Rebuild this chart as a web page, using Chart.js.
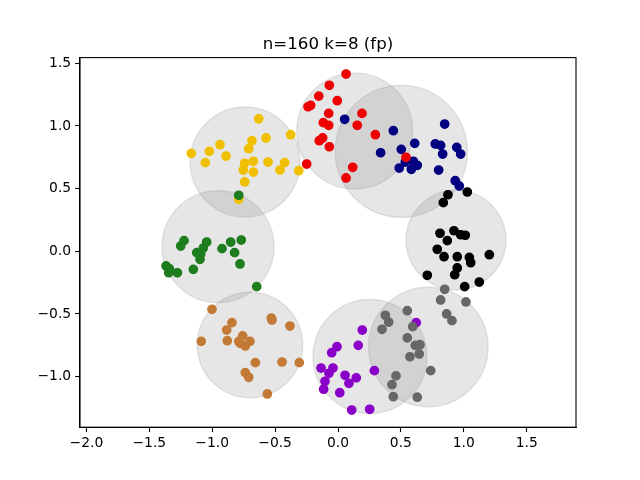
<!DOCTYPE html>
<html>
<head>
<meta charset="utf-8">
<script src="https://cdn.jsdelivr.net/npm/chart.js@4/dist/chart.umd.min.js"></script>
<style>
html,body{margin:0;padding:0;background:#fff;}
#wrap{width:640px;height:480px;}
</style>
</head>
<body>
<div id="wrap"><canvas id="c" width="640" height="480"></canvas></div>
<script>
// ---- data ----
const titleText = "n=160 k=8 (fp)";
const xTicks = [-2.0, -1.5, -1.0, -0.5, 0.0, 0.5, 1.0, 1.5];
const yTicks = [-1.0, -0.5, 0.0, 0.5, 1.0, 1.5];
const xRange = [-2.051, 1.892];
const yRange = [-1.403, 1.545];

const navyPts = [[0.053,1.053],[0.440,0.962],[0.848,1.015],[0.339,0.786],[0.610,0.861],[0.503,0.813],[0.773,0.856],[0.816,0.845],[0.944,0.829],[0.975,0.776],[0.832,0.776],[0.487,0.664],[0.535,0.712],[0.599,0.718],[0.630,0.686],[0.583,0.654],[0.800,0.648],[0.932,0.563],[0.964,0.521]];
const redPts = [[0.064,1.414],[-0.069,1.324],[-0.153,1.238],[-0.006,1.201],[-0.217,1.164],[-0.238,1.153],[-0.074,1.100],[0.191,1.100],[-0.117,1.026],[-0.074,1.005],[0.153,1.005],[0.297,0.930],[-0.122,0.904],[-0.149,0.882],[-0.069,0.834],[0.541,0.750],[-0.249,0.696],[0.117,0.670],[0.064,0.585]];
const yellowPts = [[-0.630,1.057],[-0.376,0.930],[-0.572,0.904],[-0.684,0.882],[-0.938,0.850],[-0.710,0.818],[-1.166,0.781],[-1.023,0.797],[-0.890,0.760],[-1.055,0.707],[-0.742,0.702],[-0.673,0.718],[-0.556,0.712],[-0.424,0.707],[-0.461,0.648],[-0.312,0.643],[-0.753,0.648],[-0.673,0.632],[-0.742,0.553],[-0.789,0.415]];
const greenPts = [[-0.789,0.447],[-1.224,0.085],[-1.250,0.042],[-1.044,0.074],[-1.071,0.026],[-1.123,-0.011],[-1.091,-0.022],[-1.097,-0.064],[-0.922,0.021],[-0.853,0.074],[-0.769,0.090],[-0.822,-0.011],[-0.779,-0.101],[-1.150,-0.144],[-1.367,-0.117],[-1.341,-0.139],[-1.346,-0.171],[-1.277,-0.171],[-0.646,-0.282]];
const brownPts = [[-1.002,-0.463],[-0.843,-0.569],[-0.885,-0.628],[-0.530,-0.532],[-0.525,-0.548],[-0.382,-0.596],[-1.087,-0.718],[-0.880,-0.713],[-0.789,-0.718],[-0.758,-0.675],[-0.700,-0.718],[-0.737,-0.755],[-0.779,-0.734],[-0.657,-0.888],[-0.445,-0.883],[-0.308,-0.888],[-0.737,-0.968],[-0.710,-1.005],[-0.562,-1.138]];
const purplePts = [[0.622,-0.569],[0.193,-0.628],[-0.008,-0.761],[-0.050,-0.809],[0.161,-0.750],[-0.135,-0.931],[-0.040,-0.931],[-0.072,-0.973],[0.056,-0.989],[0.145,-1.010],[0.087,-1.053],[0.289,-0.952],[-0.103,-1.037],[-0.114,-1.100],[0.014,-1.128],[0.109,-1.266],[0.252,-1.260]];
const grayPts = [[0.848,-0.303],[0.816,-0.388],[1.017,-0.404],[0.864,-0.500],[0.906,-0.553],[0.376,-0.510],[0.403,-0.564],[0.350,-0.622],[0.551,-0.474],[0.594,-0.601],[0.551,-0.691],[0.614,-0.750],[0.652,-0.745],[0.646,-0.819],[0.572,-0.841],[0.737,-0.952],[0.461,-0.994],[0.429,-1.064],[0.440,-1.160],[0.630,-1.164]];
const blackPts = [[1.028,0.473],[0.874,0.451],[0.837,0.388],[0.811,0.144],[0.922,0.164],[0.975,0.132],[1.012,0.128],[0.869,0.085],[0.789,0.016],[0.843,-0.043],[0.948,-0.043],[1.044,-0.048],[1.055,-0.091],[1.203,-0.027],[0.948,-0.133],[0.928,-0.187],[0.710,-0.191],[1.123,-0.245],[1.007,-0.282]];

// cluster circles: centres and radii (data units)
const circleX = [0.503, 0.133, -0.739, -0.954, -0.700, 0.254, 0.718, 0.938];
const circleY = [0.797, 0.959, 0.712, 0.037, -0.747, -0.839, -0.763, 0.090];
const circleR = [0.525, 0.461, 0.437, 0.445, 0.419, 0.453, 0.475, 0.397];

// ---- styles ----
const clusters = [navyPts, redPts, yellowPts, greenPts, brownPts, purplePts, grayPts, blackPts];
const colors = ['#000080', '#ee0000', '#f0c000', '#1e7d1e', '#c27a35', '#8b00c8', '#676767', '#000000'];

const FONT = "'DejaVu Sans', sans-serif";
const fmt = v => v.toFixed(1).replace('-', '\u2212');

const circlesPlugin = {
  id: 'circles',
  beforeDatasetsDraw(chart) {
    const {ctx, chartArea, scales} = chart;
    const xs = scales.x, ys = scales.y;
    ctx.save();
    ctx.beginPath();
    ctx.rect(chartArea.left, chartArea.top, chartArea.right - chartArea.left, chartArea.bottom - chartArea.top);
    ctx.clip();
    for (let i = 0; i < circleX.length; i++) {
      const cx = xs.getPixelForValue(circleX[i]);
      const cy = ys.getPixelForValue(circleY[i]);
      const r = xs.getPixelForValue(circleX[i] + circleR[i]) - cx;
      ctx.beginPath();
      ctx.arc(cx, cy, r, 0, Math.PI * 2);
      ctx.fillStyle = 'rgba(128,128,128,0.2)';
      ctx.fill();
      ctx.lineWidth = 1.4;
      ctx.strokeStyle = 'rgba(128,128,128,0.2)';
      ctx.stroke();
    }
    ctx.restore();
  }
};

const framePlugin = {
  id: 'frame',
  afterDraw(chart) {
    const {ctx, chartArea} = chart;
    ctx.save();
    ctx.strokeStyle = '#000';
    ctx.lineWidth = 1.1;
    ctx.strokeRect(chartArea.left, chartArea.top, chartArea.right - chartArea.left, chartArea.bottom - chartArea.top);
    ctx.fillStyle = '#000';
    ctx.font = "16.67px " + FONT;
    ctx.textAlign = 'center';
    ctx.textBaseline = 'alphabetic';
    ctx.fillText(titleText, (chartArea.left + chartArea.right) / 2, chartArea.top - 8.4);
    ctx.restore();
  }
};

new Chart(document.getElementById('c'), {
  type: 'scatter',
  data: {
    datasets: clusters.map((pts, i) => ({
      data: pts.map(p => ({x: p[0], y: p[1]})),
      backgroundColor: colors[i],
      borderColor: colors[i],
      pointRadius: 4.17,
      pointBorderWidth: 1.39,
      pointHoverRadius: 4.17,
      order: clusters.length - i
    }))
  },
  options: {
    responsive: false,
    animation: false,
    devicePixelRatio: 1,
    events: [],
    layout: {padding: {left: 0, right: 64, top: 57.6, bottom: 0}},
    plugins: {legend: {display: false}, tooltip: {enabled: false}, title: {display: false}},
    scales: {
      x: {
        type: 'linear', min: xRange[0], max: xRange[1],
        afterBuildTicks: s => { s.ticks = xTicks.map(v => ({value: v})); },
        afterFit: s => { s.height = 52.8; },
        grid: {drawOnChartArea: false, drawTicks: true, tickLength: 4.86, tickWidth: 1.1, tickColor: '#000'},
        border: {display: true, color: '#000', width: 1.1},
        ticks: {color: '#000', font: {family: FONT, size: 13.89}, padding: 3, maxRotation: 0, autoSkip: false, callback: v => fmt(v)}
      },
      y: {
        type: 'linear', min: yRange[0], max: yRange[1],
        afterBuildTicks: s => { s.ticks = yTicks.map(v => ({value: v})); },
        afterFit: s => { s.width = 80; },
        grid: {drawOnChartArea: false, drawTicks: true, tickLength: 4.86, tickWidth: 1.1, tickColor: '#000'},
        border: {display: true, color: '#000', width: 1.1},
        ticks: {color: '#000', font: {family: FONT, size: 13.89}, padding: 4, autoSkip: false, callback: v => fmt(v)}
      }
    }
  },
  plugins: [circlesPlugin, framePlugin]
});
</script>
</body>
</html>
